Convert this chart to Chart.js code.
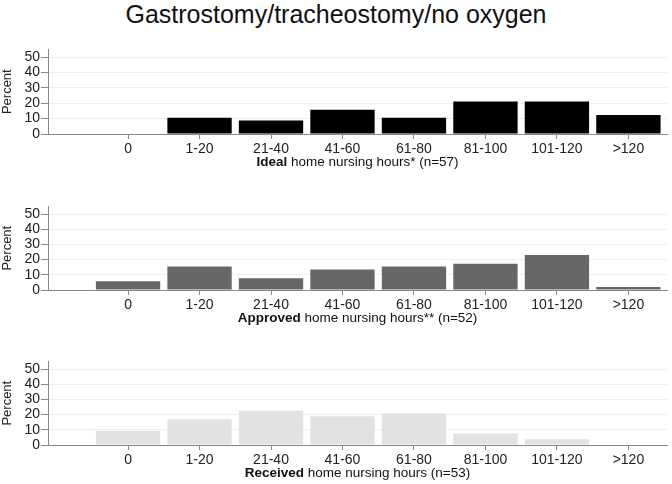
<!DOCTYPE html>
<html>
<head>
<meta charset="utf-8">
<script src="https://cdn.jsdelivr.net/npm/chart.js@4/dist/chart.umd.min.js"></script>
<style>
  body { margin: 0; background: #fff; width: 672px; height: 484px; position: relative; overflow: hidden; }
  #title { position: absolute; left: 0; top: 0px; width: 672px; text-align: center; font: 25px "Liberation Sans", Arial, sans-serif; color: #111; }
  canvas { position: absolute; left: 0; }
</style>
</head>
<body>
<div id="title">Gastrostomy/tracheostomy/no oxygen</div>
<canvas id="idealChart" width="672" height="140" style="top:40px"></canvas>
<canvas id="approvedChart" width="672" height="140" style="top:197px"></canvas>
<canvas id="receivedChart" width="672" height="132" style="top:352px"></canvas>
<script>
// catégories d'heures
const hourLabels = ["0", "1-20", "21-40", "41-60", "61-80", "81-100", "101-120", ">120"];
// pourcentages
const idealValues = [0, 10.5, 8.8, 15.8, 10.5, 21.1, 21.1, 12.3];
const approvedValues = [5.8, 15.4, 7.7, 13.5, 15.4, 17.3, 23.1, 1.9];
const receivedValues = [9.4, 17.0, 22.6, 18.9, 20.8, 7.5, 3.8, 0];
const yTicks = [0, 10, 20, 30, 40, 50];

const fontFam = "'Liberation Sans', Arial, sans-serif";

// plugin qui écrit le titre de l'axe x avec une partie en gras
const xTitlePlugin = {
    id: "xTitle",
    afterDraw(chart, args, opts) {
        const ctx = chart.ctx;
        const area = chart.chartArea;
        ctx.save();
        ctx.fillStyle = "#111";
        ctx.textBaseline = "middle";
        ctx.font = "bold 13.5px " + fontFam;
        const wBold = ctx.measureText(opts.bold).width;
        ctx.font = "13.5px " + fontFam;
        const wRest = ctx.measureText(opts.rest).width;
        let x = (area.left + area.right) / 2 - (wBold + wRest) / 2;
        const y = area.bottom + 28;
        ctx.textAlign = "left";
        ctx.font = "bold 13.5px " + fontFam;
        ctx.fillText(opts.bold, x, y);
        ctx.font = "13.5px " + fontFam;
        ctx.fillText(opts.rest, x + wBold, y);
        ctx.restore();
    }
};

function makeChart(id, values, color, plotHeight, boldText, restText) {
    const can = document.getElementById(id);
    const ctx = can.getContext("2d");
    return new Chart(ctx, {
        type: "bar",
        data: {
            datasets: [{
                data: values.map((v, i) => ({ x: i, y: v })),
                backgroundColor: color,
                borderWidth: 0,
                barPercentage: 0.9,
                categoryPercentage: 1,
            }, ],
        },
        plugins: [xTitlePlugin],
        options: {
            responsive: false,
            animation: false,
            layout: {
                padding: { top: 5, right: 5, left: 0, bottom: 0 },
            },
            scales: {
                x: {
                    type: "linear",
                    min: -1.12,
                    max: 7.54,
                    offset: false,
                    afterBuildTicks: (scale) => {
                        scale.ticks = hourLabels.map((_, i) => ({ value: i }));
                    },
                    afterFit: (scale) => {
                        scale.height = can.height - 5 - plotHeight;
                    },
                    ticks: {
                        callback: (v) => hourLabels[v],
                        color: "#222",
                        font: { size: 14, family: fontFam },
                        padding: 2,
                        maxRotation: 0,
                        autoSkip: false,
                    },
                    grid: {
                        display: true,
                        offset: false,
                        drawOnChartArea: false,
                        drawTicks: true,
                        tickLength: 5,
                        color: "#888",
                    },
                    border: { display: true, color: "#888", width: 1 },
                },
                y: {
                    min: 0,
                    max: 55,
                    afterBuildTicks: (scale) => {
                        scale.ticks = yTicks.map(v => ({ value: v }));
                    },
                    afterFit: (scale) => {
                        scale.width = 48;
                    },
                    title: {
                        text: "Percent",
                        display: true,
                        color: "#222",
                        font: { size: 13, family: fontFam },
                        padding: 0,
                    },
                    ticks: {
                        color: "#222",
                        font: { size: 14, family: fontFam },
                        padding: 1,
                        autoSkip: false,
                    },
                    grid: {
                        color: (c) => c.tick && c.tick.value === 0 ? "#888" : "#efefef",
                        tickColor: "#888",
                        tickLength: 7,
                        lineWidth: 1,
                    },
                    border: { display: true, color: "#888", width: 1 },
                },
            },
            plugins: {
                legend: { display: false },
                tooltip: { enabled: false },
                xTitle: { bold: boldText, rest: restText },
            },
        },
    });
}

var idealChart = makeChart("idealChart", idealValues, "#000000", 89, "Ideal", " home nursing hours* (n=57)");
var approvedChart = makeChart("approvedChart", approvedValues, "#676767", 88, "Approved", " home nursing hours** (n=52)");
var receivedChart = makeChart("receivedChart", receivedValues, "#e2e2e2", 88, "Received", " home nursing hours (n=53)");
</script>
</body>
</html>
